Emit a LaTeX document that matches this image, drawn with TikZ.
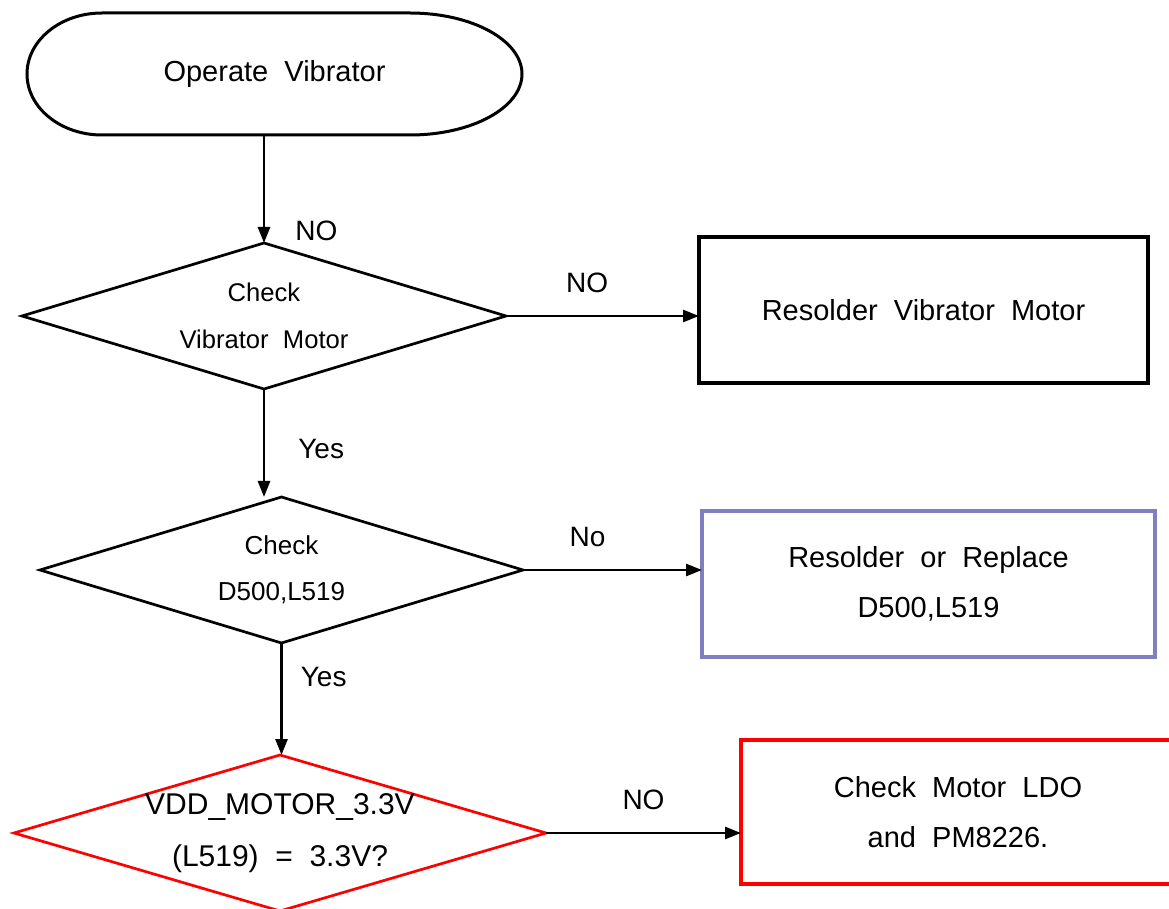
\documentclass[tikz,border=0pt]{standalone}
\usepackage{fontspec}
\setmainfont{Liberation Sans}[WordSpace=2]
\usetikzlibrary{shapes.geometric,arrows.meta}
\definecolor{boxblue}{RGB}{128,128,192}

\begin{document}
\begin{tikzpicture}[x=0.5pt,y=0.5pt,
  decision/.style={diamond,draw,line width=1.35pt,inner sep=0pt,outer sep=0pt,align=center},
  action/.style={rectangle,draw,line width=1.6pt,outer sep=0pt,align=center,
    font=\fontsize{14.5}{25}\selectfont},
  flow/.style={-{Triangle[length=8pt,width=6pt]},line width=1.35pt},
  lbl/.style={inner sep=0pt,font=\fontsize{14}{17}\selectfont}]
  \useasboundingbox (0,0) rectangle (1169,-909);
  \node[minimum width=247.5pt,minimum height=61pt,outer sep=0pt,
    font=\fontsize{14.5}{17}\selectfont] (start) at (274.5,-74) {Operate Vibrator};
  \draw[line width=1.5pt] ([xshift=37.5pt]start.north west) -- ([xshift=-56pt]start.north east)
    arc[start angle=90,end angle=-90,x radius=56pt,y radius=30.5pt]
    -- ([xshift=37.5pt]start.south west)
    arc[start angle=270,end angle=90,x radius=37.5pt,y radius=30.5pt] -- cycle;
  \node[decision,aspect=3.3,minimum width=242pt,minimum height=73pt,
    font=\fontsize{12.8}{23.5}\selectfont] (chkmotor) at (264,-316) {Check\\Vibrator Motor};
  \node[action,line width=1.8pt,minimum width=224.5pt,minimum height=73pt] (resolder)
    at (923.5,-310) {Resolder Vibrator Motor};
  \node[decision,aspect=3.3,minimum width=241.5pt,minimum height=73pt,
    font=\fontsize{13}{23}\selectfont] (chkdiode) at (281.5,-570) {Check\\D500,L519};
  \node[action,draw=boxblue,minimum width=226.5pt,minimum height=73pt] (replace)
    at (928.5,-584) {Resolder or Replace\\D500,L519};
  \node[decision,draw=red,aspect=3.4,inner sep=-1.5pt,minimum width=266pt,minimum height=78pt,
    font=\fontsize{15}{26}\selectfont] (vdd) at (280,-833) {VDD\_MOTOR\_3.3V\\(L519) = 3.3V?};
  \node[action,draw=red,line width=2pt,minimum width=217pt,minimum height=72pt] (ldo)
    at (958,-812) {Check Motor LDO\\and PM8226.};
  \draw[flow] (start.south -| chkmotor.north) -- (chkmotor.north)
    node[lbl,pos=0.89,right=15pt] {NO};
  \draw[flow] (chkmotor.east) -- (chkmotor.east -| resolder.west)
    node[lbl,pos=0.42,above=11pt] {NO};
  \draw[flow] (chkmotor.south) -- (chkmotor.south |- chkdiode.north)
    node[lbl,pos=0.556,right=16.5pt] {Yes};
  \draw[flow] (chkdiode.east) -- (chkdiode.east -| replace.west)
    node[lbl,pos=0.36,above=11pt] {No};
  \draw[flow] (chkdiode.south) -- (chkdiode.south |- vdd.north)
    node[lbl,pos=0.3,right=9pt] {Yes};
  \draw[flow] (vdd.east) -- (vdd.east -| ldo.west)
    node[lbl,pos=0.5,above=11pt] {NO};
\end{tikzpicture}
\end{document}
